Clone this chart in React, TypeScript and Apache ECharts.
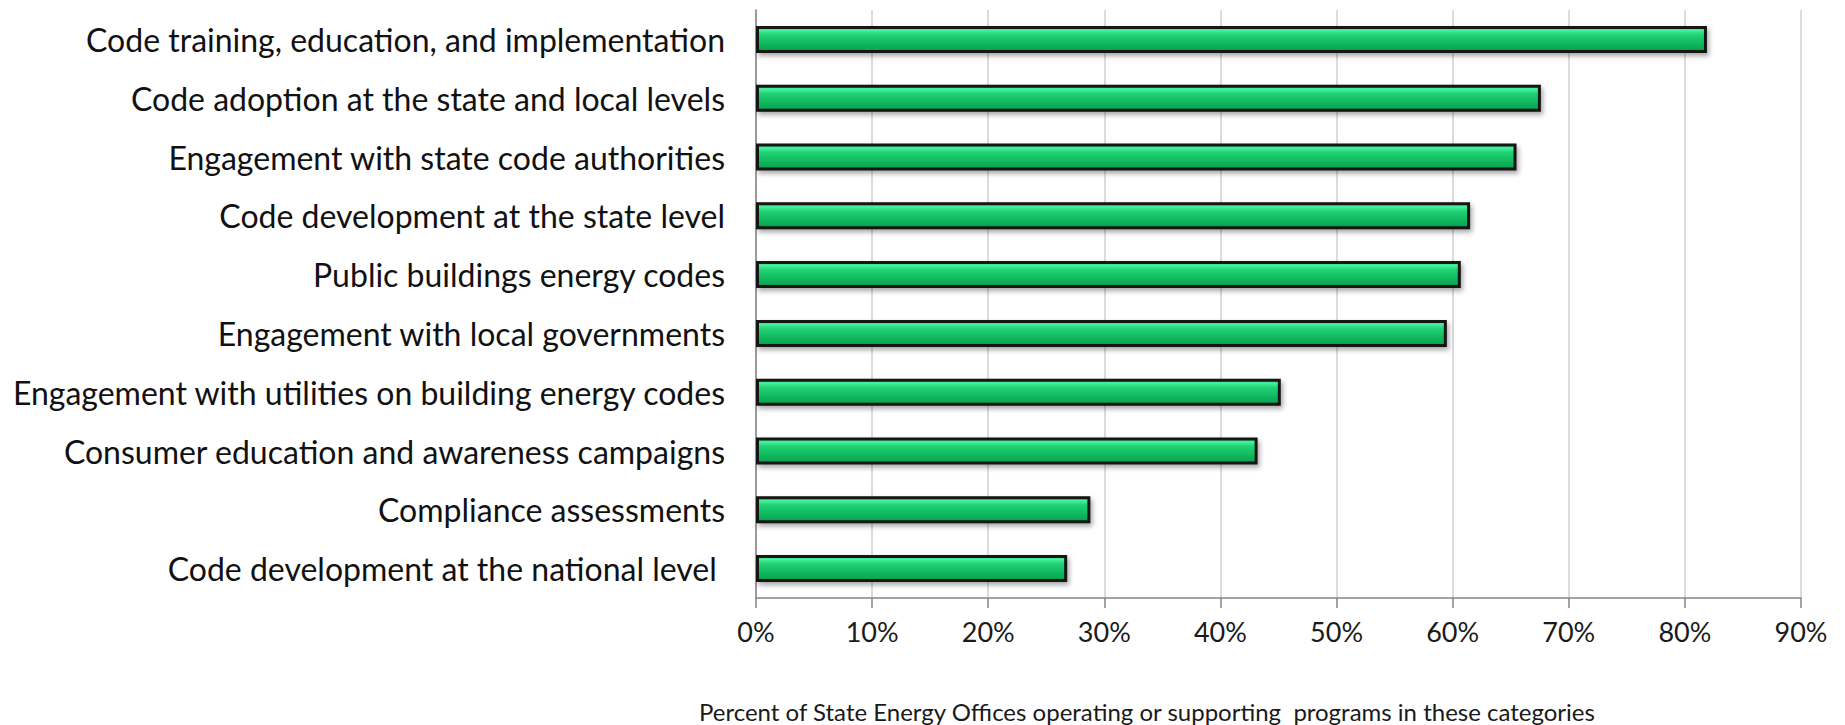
import React, { useEffect, useRef } from "react";
import * as echarts from "echarts";

const categories: string[] = [
  "Code training, education, and implementation",
  "Code adoption at the state and local levels",
  "Engagement with state code authorities",
  "Code development at the state level",
  "Public buildings energy codes",
  "Engagement with local governments",
  "Engagement with utilities on building energy codes",
  "Consumer education and awareness campaigns",
  "Compliance assessments",
  "Code development at the national level ",
];

const values: number[] = [81.9, 67.6, 65.5, 61.5, 60.7, 59.5, 45.2, 43.2, 28.8, 26.8];

const axisTitle =
  "Percent of State Energy Offices operating or supporting  programs in these categories";

const FONT = "Lato, 'Open Sans', sans-serif";

export default function App() {
  const ref = useRef<HTMLDivElement>(null);
  useEffect(() => {
    if (!ref.current) return;
    const chart = echarts.init(ref.current, undefined, { renderer: "svg" });
    chart.setOption({
      animation: false,
      backgroundColor: "#ffffff",
      grid: { left: 756, right: 44, top: 10, bottom: 127, containLabel: false },
      xAxis: {
        type: "value",
        min: 0,
        max: 90,
        interval: 10,
        axisLine: { show: true, lineStyle: { color: "#868686", width: 1.5 } },
        axisTick: { show: true, length: 10, lineStyle: { color: "#868686", width: 1.5 } },
        splitLine: { show: true, lineStyle: { color: "#d0d0d0", width: 1.5 } },
        axisLabel: {
          formatter: "{value}%",
          fontFamily: FONT,
          fontSize: 27,
          color: "#1a1a1a",
          margin: 20,
        },
      },
      yAxis: {
        type: "category",
        data: categories,
        inverse: true,
        axisLine: { show: true, lineStyle: { color: "#868686", width: 1.5 } },
        axisTick: { show: false },
        axisLabel: {
          fontFamily: FONT,
          fontSize: 32,
          color: "#111111",
          margin: 31,
        },
      },
      graphic: [
        {
          type: "text",
          x: 699,
          y: 711,
          style: {
            text: axisTitle,
            fontFamily: FONT,
            fontSize: 24,
            fill: "#1a1a1a",
            textAlign: "left",
            textVerticalAlign: "middle",
          },
        },
      ],
      series: [
        {
          type: "bar",
          data: values,
          barWidth: 27,
          itemStyle: {
            color: new echarts.graphic.LinearGradient(0, 0, 0, 1, [
              { offset: 0, color: "#2fd57f" },
              { offset: 0.12, color: "#46f29d" },
              { offset: 0.3, color: "#22d277" },
              { offset: 0.6, color: "#13bd62" },
              { offset: 0.85, color: "#0cab55" },
              { offset: 1, color: "#0a9a4a" },
            ]),
            borderColor: "#151515",
            borderWidth: 3,
            shadowBlur: 5,
            shadowOffsetX: 2,
            shadowOffsetY: 3,
            shadowColor: "rgba(0,0,0,0.35)",
          },
        },
      ],
    });
    return () => chart.dispose();
  }, []);
  return (
    <div
      ref={ref}
      style={{ position: "fixed", left: 0, top: 0, width: 1845, height: 725 }}
    />
  );
}
